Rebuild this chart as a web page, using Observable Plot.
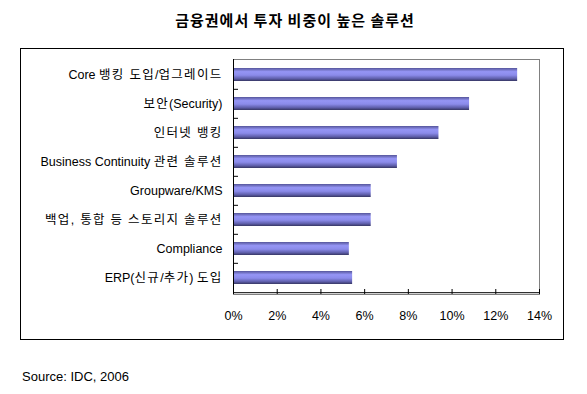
<!DOCTYPE html>
<html>
<head>
<meta charset="utf-8">
<script src="https://cdn.jsdelivr.net/npm/d3@7"></script>
<script src="https://cdn.jsdelivr.net/npm/@observablehq/plot@0.6"></script>
<style>
  html, body { margin: 0; padding: 0; background: #fff; }
  body { width: 587px; height: 394px; position: relative; overflow: hidden;
         font-family: "Liberation Sans", Arial, "Noto Sans CJK KR", sans-serif; }
  #title { position: absolute; left: 0; top: 9px; width: 590px; text-align: center;
           font-family: "Noto Sans CJK KR", sans-serif; font-weight: bold; font-size: 15px;
           letter-spacing: 1px; color: #000; }
  #chart { position: absolute; left: 21px; top: 49px; }
  #frame { position: absolute; left: 20px; top: 48px; width: 542px; height: 290px; border: 1px solid #000; pointer-events: none; }
  #source { position: absolute; left: 22px; top: 369px; font-size: 13px; color: #000; }
</style>
</head>
<body>
<div id="title">금융권에서 투자 비중이 높은 솔루션</div>
<div id="chart"></div>
<div id="frame"></div>
<div id="source">Source: IDC, 2006</div>
<script>
const categories = [
  "Core 뱅킹 도입/업그레이드",
  "보안(Security)",
  "인터넷 뱅킹",
  "Business Continuity 관련 솔루션",
  "Groupware/KMS",
  "백업, 통합 등 스토리지 솔루션",
  "Compliance",
  "ERP(신규/추가) 도입"
];
const values = [13.0, 10.8, 9.4, 7.5, 6.3, 6.3, 5.3, 5.45];
const xTicks = [0, 2, 4, 6, 8, 10, 12, 14];

const data = categories.map((c, i) => ({category: c, value: values[i]}));

const W = 543, H = 291, mL = 212, mR = 25, mT = 10, mB = 46;
const plotW = W - mL - mR, plotH = H - mT - mB;
const halfStep = plotH / categories.length / 2;

const chart = Plot.plot({
  width: W,
  height: H,
  marginLeft: mL,
  marginRight: mR,
  marginTop: mT,
  marginBottom: mB,
  style: {fontFamily: '"Liberation Sans", Arial, "Noto Sans CJK KR", sans-serif', fontSize: "12.5px", color: "#000", background: "transparent"},
  x: {domain: [0, 14], ticks: xTicks, tickFormat: d => d + "%", tickSize: 0, tickPadding: 17, label: null},
  y: {domain: categories, paddingInner: 0.54, paddingOuter: 0.27, tickSize: 0, tickPadding: 11, label: null},
  marks: [
    Plot.frame({stroke: "#808080"}),
    Plot.barX(data, {x: "value", y: "category", fill: "url(#barGrad)"}),
    Plot.tickY(categories.slice(1), {y: d => d, dy: -halfStep, stroke: "#000", insetRight: plotW - 5}),
    Plot.ruleX(xTicks, {x: d => d, stroke: "#000", insetTop: plotH - 5}),
    Plot.ruleX([0], {stroke: "#000"}),
    Plot.tickY(categories.slice(-1), {y: d => d, dy: halfStep, stroke: "#000"})
  ]
});

const defs = d3.select(chart).insert("defs", ":first-child");
const grad = defs.append("linearGradient").attr("id", "barGrad")
  .attr("x1", 0).attr("y1", 0).attr("x2", 0).attr("y2", 1);
[[0, "#55559a"], [0.28, "#9595f5"], [0.55, "#8b8bea"], [0.82, "#5e5eaa"], [1, "#363663"]]
  .forEach(([o, c]) => grad.append("stop").attr("offset", o).attr("stop-color", c));

// Widen Hangul runs in the category labels (the reference font spaces Hangul widely)
const hangulRun = /([\uAC00-\uD7AF][\uAC00-\uD7AF\s,]*)/;
d3.select(chart).selectAll('g[aria-label="y-axis tick label"] text').each(function() {
  const t = d3.select(this);
  const label = this.textContent;
  const parts = label.split(hangulRun).filter(p => p.length);
  t.text(null);
  parts.forEach(p => {
    const span = t.append("tspan").text(p);
    if (/[\uAC00-\uD7AF]/.test(p)) span.attr("letter-spacing", "1.3px");
  });
});

document.getElementById("chart").appendChild(chart);
</script>
</body>
</html>
